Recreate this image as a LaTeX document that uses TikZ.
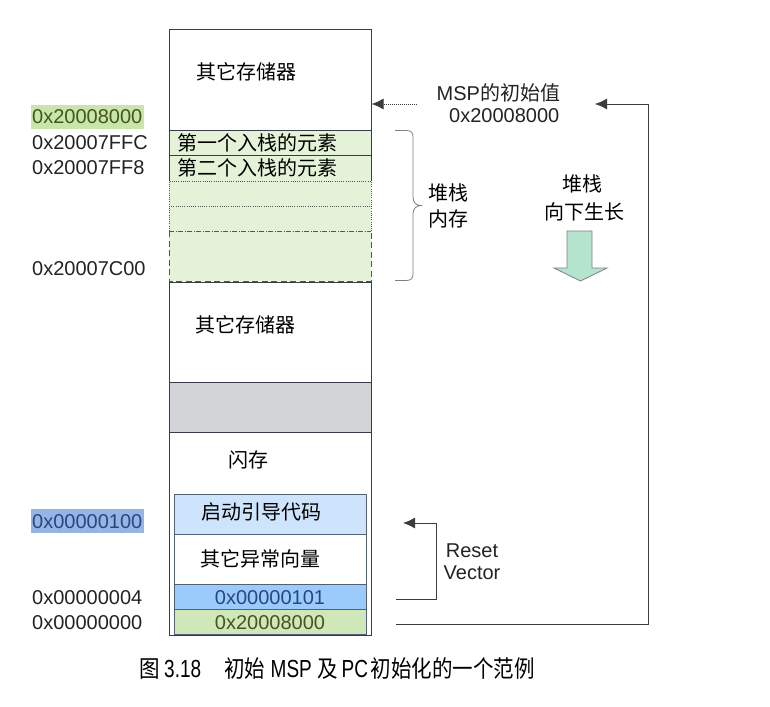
\documentclass[tikz,border=0pt]{standalone}
\usepackage{fontspec}
\setmainfont{Liberation Sans}
\newfontfamily\cjk{Noto Sans CJK SC}
\usetikzlibrary{arrows.meta}

\definecolor{stackgreen}{RGB}{228,243,215}
\definecolor{hlgreen}{RGB}{200,230,170}
\definecolor{hlblue}{RGB}{150,180,228}
\definecolor{vecblue}{RGB}{155,203,250}
\definecolor{bootblue}{RGB}{206,228,252}
\definecolor{spgreen}{RGB}{208,232,185}
\definecolor{flashgray}{RGB}{210,212,215}
\definecolor{mint}{RGB}{180,228,205}
\definecolor{edge}{RGB}{55,60,72}
\definecolor{inedge}{RGB}{85,95,115}
\definecolor{stackgray}{RGB}{80,88,80}
\definecolor{linkgray}{RGB}{60,60,60}
\definecolor{txtgray}{RGB}{35,35,35}
\definecolor{darkblue}{RGB}{40,70,130}
\definecolor{olive}{RGB}{70,85,30}

% caption pieces are stretched upward in the original
\newcommand{\capzh}[1]{\scalebox{1}[1.15]{\cjk\fontsize{20.5}{24}\selectfont #1}}
\newcommand{\caplat}[1]{\scalebox{1}[1.3]{\fontsize{19}{22}\selectfont #1}}

\tikzset{
  addr/.style={anchor=base west, inner sep=0pt, text=txtgray, font=\fontsize{20}{24}\selectfont},
  hl/.style={inner xsep=1.5pt, inner ysep=5pt, text height=14pt, text depth=0pt},
  zh/.style={anchor=base west, inner sep=0pt, text=black, font=\cjk\fontsize{20}{24}\selectfont},
  box/.style={draw=edge, line width=0.8pt},
  inbox/.style={draw=inedge, line width=0.8pt},
  dotline/.style={draw=stackgray, line width=0.8pt, dash pattern=on 1pt off 1.2pt},
  dashline/.style={draw=stackgray, line width=0.9pt, dash pattern=on 6pt off 3.5pt},
  dashdotline/.style={draw=stackgray, line width=0.9pt, dash pattern=on 5pt off 1.5pt on 1pt off 1.5pt},
  link/.style={draw=linkgray, line width=0.9pt, -{Latex[length=12pt,width=11pt]}},
}

\begin{document}
\begin{tikzpicture}[x=1pt, y=-1pt]
	\useasboundingbox (0,0) rectangle (770,706);
	\fill[white] (0,0) rectangle (770,706);

	% upper memory
	\draw[box] (169,29) rectangle (371,130);
	\fill[stackgreen] (169,130) rectangle (371,281);
	\draw[box] (169,181) -- (169,130) -- (371,130) -- (371,181);
	\draw[box] (169,155) -- (371,155);
	\draw[dotline] (169,231) -- (169,181) -- (371,181) -- (371,231);
	\draw[dotline] (169,206) -- (371,206);
	\draw[dashdotline] (169,231) -- (371,231);
	\draw[dashline] (169,231) -- (169,281) -- (371,281) -- (371,231);

	% lower memory
	\draw[box] (169,282) rectangle (371,635);
	\filldraw[box, fill=flashgray] (169,382) rectangle (371,432);
	\filldraw[inbox, fill=bootblue] (174,494) rectangle (366,534);
	\draw[inbox] (174,534) rectangle (366,584);
	\filldraw[inbox, fill=vecblue] (174,584) rectangle (366,609);
	\filldraw[inbox, fill=spgreen] (174,609) rectangle (366,634);

	\node[zh] (other1) at (196,80) {其它存储器};
	\node[zh] (push1) at (177,150) {第一个入栈的元素};
	\node[zh] (push2) at (177,175) {第二个入栈的元素};
	\node[zh] (other2) at (195,332) {其它存储器};
	\node[zh] (flash) at (228,467) {闪存};
	\node[zh] (boot) at (201,519) {启动引导代码};
	\node[zh] (vectors) at (200.5,566) {其它异常向量};
	\node[addr, anchor=base, text=darkblue] (resetval) at (270,604) {0x00000101};
	\node[addr, anchor=base, text=olive] (mspval) at (270,629) {0x20008000};

	% addresses
	\node[addr, hl, fill=hlgreen, text=olive] (a20008000) at (30.5,124) {0x20008000};
	\foreach \y/\txt [count=\i] in {149/0x20007FFC, 174/0x20007FF8, 275/0x20007C00, 604/0x00000004, 629/0x00000000} {
		\node[addr] (addr\i) at (32,\y) {\txt};
	}
	\node[addr, hl, fill=hlblue, text=darkblue] (a00000100) at (30.5,528) {0x00000100};

	% MSP
	\node[addr] (msplabel) at (436.5,100) {MSP{\cjk 的初始值}};
	\node[addr] (mspinit) at (449,122) {0x20008000};
	\coordinate (mspfrom) at (417,104);
	\coordinate (mspto) at (371.5,104);
	\draw[link, dash pattern=on 1pt off 1pt] (mspfrom) -- (mspto);

	\coordinate (spword) at (396,624);
	\coordinate (spturn) at (648,104);
	\coordinate (spend) at (595,104);
	\draw[link] (spword) -| (spturn) -- (spend);

	% reset vector
	\coordinate (pcword) at (396,599);
	\coordinate (pcturn) at (436,523);
	\coordinate (pcend) at (403,523);
	\draw[link] (pcword) -| (pcturn) -- (pcend);
	\node[addr, anchor=base] (reset) at (472,557) {Reset};
	\node[addr, anchor=base] (vector) at (472,579) {Vector};

	% stack brace
	\draw[draw=gray, line width=0.8pt] (395,130.5) -- (406,130.5) .. controls (411,130.5) and (413,132.5) .. (413,137) -- (413,197) .. controls (413,202) and (416,205.5) .. (421,205.5) .. controls (416,205.5) and (413,209) .. (413,214) -- (413,274) .. controls (413,278.5) and (411,280.5) .. (406,280.5) -- (395,280.5);
	\node[zh] (stack1) at (428,200) {堆栈};
	\node[zh] (stack2) at (428,226) {内存};

	% grows down
	\node[zh, anchor=base] (grow1) at (582,191) {堆栈};
	\node[zh, anchor=base] (grow2) at (584,219) {向下生长};
	\filldraw[draw=gray, fill=mint, line width=0.8pt] (567,231) -- (592,231) -- (592,268) -- (607,268) -- (580.5,281) -- (554,268) -- (567,268) -- cycle;

	% caption
	\foreach \x/\t [count=\i] in {139/\capzh{图}, 164/\caplat{3.18}, 224/\capzh{初始}, 270.5/\caplat{MSP}, 317/\capzh{及}, 341.5/\caplat{PC}, 370.5/\capzh{初始化的一个范例}} {
		\node[anchor=base west, inner sep=0pt] (cap\i) at (\x,677) {\t};
	}
\end{tikzpicture}
\end{document}
